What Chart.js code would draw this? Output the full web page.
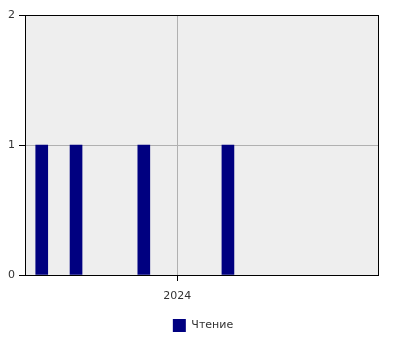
<!DOCTYPE html>
<html lang="ru">
<head>
    <meta charset="UTF-8">
    <title>Чтение</title>
    <script src="https://cdn.jsdelivr.net/npm/chart.js"></script>
    <style>
        body { margin: 0; background: #fff; }
    </style>
</head>
<body>
    <canvas id="mainChart" width="400" height="350"></canvas>
    <script>
        // dates as decimal years (Sep, Oct, Dec 2023, mid Feb 2024)
        const dates = [2023.668, 2023.752, 2023.918, 2024.124];
        const counts = [1, 1, 1, 1];
        const seriesLabel = 'Чтение';
        const yearTicks = [2024];
        const xMin = 2023.627;
        const xMax = 2024.494;

        // grey plot background and frame around it
        const plotFrame = {
            id: 'plotFrame',
            beforeDraw(chart) {
                const a = chart.chartArea;
                const ctx = chart.ctx;
                ctx.save();
                ctx.fillStyle = '#eeeeee';
                ctx.fillRect(a.left, a.top, a.right - a.left, a.bottom - a.top);
                ctx.restore();
            },
            afterDraw(chart) {
                const a = chart.chartArea;
                const ctx = chart.ctx;
                ctx.save();
                ctx.strokeStyle = '#000';
                ctx.lineWidth = 1;
                ctx.strokeRect(a.left + 0.5, a.top + 0.5, a.right - a.left - 1, a.bottom - a.top);
                ctx.restore();
            }
        };

        Chart.defaults.font.family = "'DejaVu Sans', sans-serif";
        Chart.defaults.font.size = 11;
        Chart.defaults.color = '#333';

        const ctx = document.getElementById('mainChart').getContext('2d');
        const chart = new Chart(ctx, {
            type: 'bar',
            data: {
                datasets: [{
                    label: seriesLabel,
                    data: dates.map((d, i) => ({ x: d, y: counts[i] })),
                    backgroundColor: '#000080',
                    borderWidth: 0,
                    barThickness: 12
                }]
            },
            options: {
                responsive: false,
                animation: false,
                layout: { padding: { top: 15, right: 0, left: 6, bottom: 8 } },
                scales: {
                    x: {
                        type: 'linear',
                        min: xMin,
                        max: xMax,
                        offset: false,
                        afterBuildTicks: s => { s.ticks = yearTicks.map(v => ({ value: v })); },
                        ticks: { callback: v => String(v), maxRotation: 0, padding: 9 },
                        grid: { offset: false, color: '#b0b0b0', tickColor: '#000', tickLength: 6 },
                        border: { display: false },
                        afterFit: s => { s.height = 34; }
                    },
                    y: {
                        min: 0,
                        max: 2,
                        ticks: { stepSize: 1, padding: 4 },
                        grid: { color: '#b0b0b0', tickColor: '#000', tickLength: 6 },
                        border: { display: false },
                        afterFit: s => { s.width = 19; }
                    },
                    // empty right axis, only keeps the plot off the right edge
                    y2: {
                        position: 'right',
                        display: true,
                        min: 0,
                        max: 2,
                        ticks: { display: false },
                        grid: { display: false },
                        border: { display: false },
                        afterFit: s => { s.width = 21; }
                    }
                },
                plugins: {
                    legend: {
                        position: 'bottom',
                        labels: { boxWidth: 13, boxHeight: 13, padding: 10 }
                    },
                    tooltip: { enabled: false }
                }
            },
            plugins: [plotFrame]
        });
    </script>
</body>
</html>
